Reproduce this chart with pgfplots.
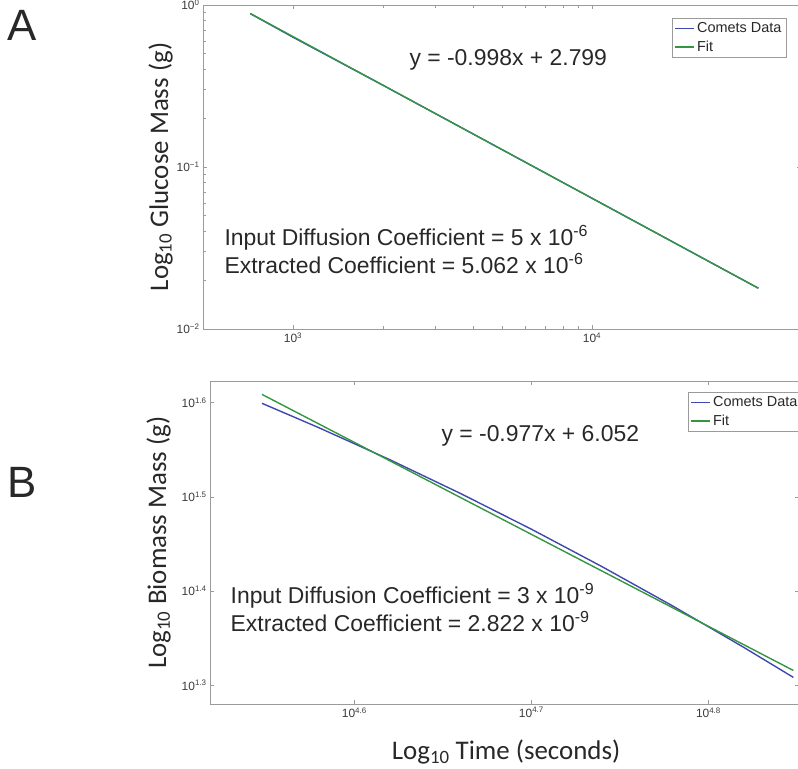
\documentclass[border=0pt]{standalone}
\usepackage{fontspec}
\setmainfont{Liberation Sans}
\newfontfamily\calibri{Carlito}
\usepackage{pgfplots}
\pgfplotsset{compat=1.18}

\definecolor{cometblue}{RGB}{64,72,176}
\definecolor{fitgreen}{RGB}{52,150,64}
\definecolor{axgray}{RGB}{155,155,155}
\definecolor{ticktxt}{RGB}{60,60,60}
\definecolor{annot}{RGB}{40,40,40}

\pgfplotsset{
  panel/.style={
    scale only axis,
    axis line style={axgray, line width=0.8bp},
    tick style={axgray, line width=0.6bp},
    tick label style={font=\fontsize{12}{13}\selectfont, text=ticktxt},
    label style={font=\calibri\fontsize{27}{30}\selectfont, text=annot},
    legend cell align=left,
    legend style={draw=axgray, fill=white, font=\fontsize{14.5}{16}\selectfont,
      inner sep=2.5bp, row sep=3bp, text=annot},
  },
}

\newcommand{\annfont}{\fontsize{23}{27}\selectfont\color{annot}}

\begin{document}
\begin{tikzpicture}
\path[use as bounding box] (0,0) rectangle (798bp,-769bp);

\node[anchor=base west, font=\fontsize{44}{44}\selectfont, text=annot] at (4bp,-40bp) {A};
\node[anchor=base west, font=\fontsize{44}{44}\selectfont, text=annot] at (4bp,-497bp) {B};

% Panel A: glucose
\begin{loglogaxis}[
  panel,
  at={(203bp,-5bp)}, anchor=north west,
  width=598bp, height=324bp,
  xmin=500, xmax=50000,
  ymin=0.01, ymax=1,
  xtick={1000,10000},
  xticklabels={10\textsuperscript{3},10\textsuperscript{4}},
  ytick={0.01,0.1,1},
  yticklabels={10\textsuperscript{−2},10\textsuperscript{−1},10\textsuperscript{0}},
  ylabel={Log\textsubscript{10} Glucose Mass (g)},
  ylabel style={at={(axis description cs:-0.0585,0.5)}, anchor=base, rotate=0},
  legend image code/.code={\draw[#1, line width=1.5bp] (0bp,0bp) -- (19bp,0bp);},
  legend style={at={(0.975,0.96)}, anchor=north east},
]
\addplot[color=cometblue, line width=1.4bp] coordinates {
  (720,0.884) (1000,0.6325) (2000,0.3196) (5000,0.1281)
  (10000,0.06415) (20000,0.03211) (36000,0.01786)
};
\addlegendentry{Comets Data}
\addplot[color=fitgreen, line width=1.4bp] coordinates {
  (720,0.886) (36000,0.01786)
};
\addlegendentry{Fit}
\node[anchor=base west, font=\annfont] at (rel axis cs:0.3395,0.8148) {y = -0.998x + 2.799};
\node[anchor=base west, font=\annfont] at (rel axis cs:0.0301,0.2571) {Input Diffusion Coefficient = 5 x 10\textsuperscript{-6}};
\node[anchor=base west, font=\annfont] at (rel axis cs:0.0301,0.1719) {Extracted Coefficient = 5.062 x 10\textsuperscript{-6}};
\end{loglogaxis}

% Panel B: biomass
\begin{loglogaxis}[
  panel,
  at={(210bp,-381bp)}, anchor=north west,
  width=589bp, height=323bp,
  xmin=33000, xmax=71000,
  ymin=19.05, ymax=41.98,
  xtick={39810.7,50118.7,63095.7},
  xticklabels={10\textsuperscript{4.6},10\textsuperscript{4.7},10\textsuperscript{4.8}},
  ytick={19.953,25.119,31.623,39.811},
  yticklabels={10\textsuperscript{1.3},10\textsuperscript{1.4},10\textsuperscript{1.5},10\textsuperscript{1.6}},
  minor tick num=0,
  ylabel={Log\textsubscript{10} Biomass Mass (g)},
  ylabel style={at={(axis description cs:-0.0747,0.5)}, anchor=base, rotate=0},
  xlabel={Log\textsubscript{10} Time (seconds)},
  xlabel style={at={(axis description cs:0.5025,-0.173)}, anchor=base},
  legend image code/.code={\draw[#1, line width=1.5bp] (0bp,0bp) -- (19bp,0bp);},
  legend style={at={(1.005,0.966)}, anchor=north east},
]
\addplot[color=cometblue, line width=1.4bp] coordinates {
  (35303,39.756) (38019,37.451) (41687,34.631) (45709,31.879)
  (50119,29.213) (54954,26.650) (60256,24.201) (66069,21.878)
  (70469,20.331)
};
\addlegendentry{Comets Data}
\addplot[color=fitgreen, line width=1.4bp] coordinates {
  (35303,40.626) (70469,20.678)
};
\addlegendentry{Fit}
\node[anchor=base west, font=\annfont] at (rel axis cs:0.387,0.812) {y = -0.977x + 6.052};
\node[anchor=base west, font=\annfont] at (rel axis cs:0.0289,0.3096) {Input Diffusion Coefficient = 3 x 10\textsuperscript{-9}};
\node[anchor=base west, font=\annfont] at (rel axis cs:0.0289,0.2238) {Extracted Coefficient = 2.822 x 10\textsuperscript{-9}};
\end{loglogaxis}
\end{tikzpicture}
\end{document}
